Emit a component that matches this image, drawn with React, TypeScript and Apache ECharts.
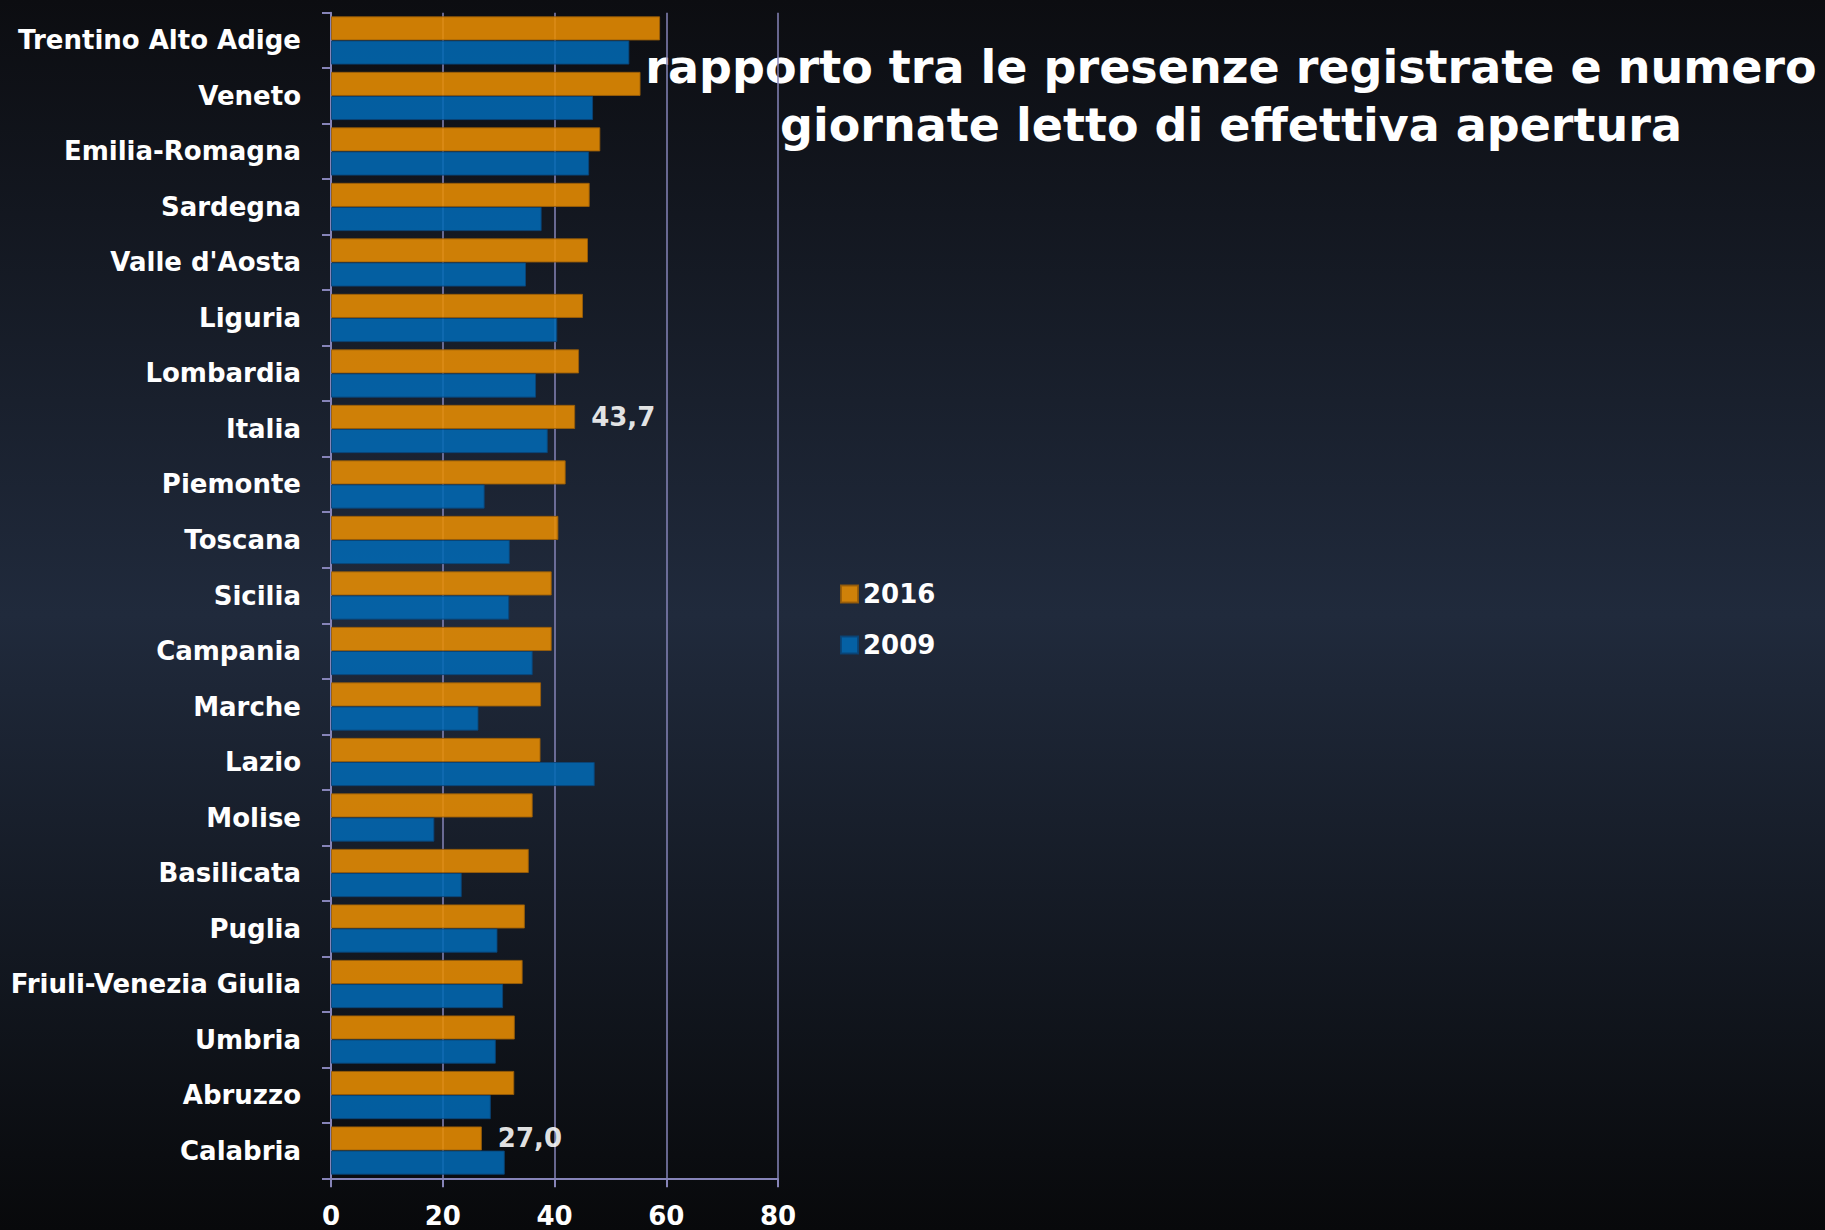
import React, { useEffect, useRef } from "react";
import * as echarts from "echarts";

const categories = [
  "Trentino Alto Adige",
  "Veneto",
  "Emilia-Romagna",
  "Sardegna",
  "Valle d'Aosta",
  "Liguria",
  "Lombardia",
  "Italia",
  "Piemonte",
  "Toscana",
  "Sicilia",
  "Campania",
  "Marche",
  "Lazio",
  "Molise",
  "Basilicata",
  "Puglia",
  "Friuli-Venezia Giulia",
  "Umbria",
  "Abruzzo",
  "Calabria",
];

const values2016 = [58.9, 55.4, 48.2, 46.3, 46.0, 45.1, 44.4, 43.7, 42.0, 40.7, 39.5, 39.5, 37.6, 37.5, 36.1, 35.4, 34.7, 34.3, 32.9, 32.8, 27.0];
const values2009 = [53.4, 46.9, 46.2, 37.7, 34.9, 40.5, 36.7, 38.8, 27.5, 32.0, 31.9, 36.1, 26.4, 47.2, 18.5, 23.4, 29.8, 30.8, 29.5, 28.6, 31.1];

const labelledCategories = ["Italia", "Calabria"];

const xTicks = { min: 0, max: 80, interval: 20 };

const titleLines = [
  "rapporto tra le presenze registrate e numero",
  "giornate letto di effettiva apertura",
];

const FONT = "'DejaVu Sans', 'Liberation Sans', sans-serif";
const LINE = "#8684b8";

export default function App() {
  const ref = useRef<HTMLDivElement>(null);

  useEffect(() => {
    if (!ref.current) return;
    const chart = echarts.init(ref.current, undefined, { renderer: "svg" });

    const data2016 = values2016.map((v, i) =>
      labelledCategories.includes(categories[i])
        ? {
            value: v,
            label: {
              show: true,
              position: "right",
              distance: 16,
              color: "#ffffff",
              fontFamily: FONT,
              fontWeight: "bold",
              fontSize: 26,
              formatter: (p: any) => Number(p.value).toFixed(1).replace(".", ","),
            },
          }
        : v
    );

    chart.setOption({
      animation: false,
      backgroundColor: {
        type: "linear",
        x: 0,
        y: 0,
        x2: 0,
        y2: 1,
        colorStops: [
          { offset: 0, color: "#0c0d11" },
          { offset: 0.5, color: "#202a3c" },
          { offset: 1, color: "#08090b" },
        ],
      },
      graphic: [
        {
          type: "text",
          x: 1231,
          y: 38,
          style: {
            text: titleLines.join("\n"),
            fill: "#ffffff",
            font: `bold 46px ${FONT}`,
            textAlign: "center",
            lineHeight: 58,
          },
        },
      ],
      legend: {
        orient: "vertical",
        left: 835,
        top: 576,
        itemWidth: 17,
        itemHeight: 17,
        itemGap: 25,
        icon: "rect",
        data: ["2016", "2009"],
        textStyle: {
          color: "#ffffff",
          fontFamily: FONT,
          fontWeight: "bold",
          fontSize: 26,
        },
      },
      grid: {
        left: 331,
        top: 12.7,
        width: 447,
        height: 1165.6,
        containLabel: false,
      },
      xAxis: {
        type: "value",
        min: xTicks.min,
        max: xTicks.max,
        interval: xTicks.interval,
        axisLine: { show: true, lineStyle: { color: LINE, width: 2 } },
        axisTick: { show: true, length: 9, lineStyle: { color: LINE, width: 2 } },
        splitLine: { show: true, lineStyle: { color: LINE, width: 1.5 } },
        axisLabel: {
          color: "#ffffff",
          fontFamily: FONT,
          fontWeight: "bold",
          fontSize: 26,
          margin: 25,
        },
      },
      yAxis: {
        type: "category",
        inverse: true,
        data: categories,
        axisLine: { show: true, lineStyle: { color: LINE, width: 2 } },
        axisTick: { show: true, length: 9, lineStyle: { color: LINE, width: 2 } },
        axisLabel: {
          color: "#ffffff",
          fontFamily: FONT,
          fontWeight: "bold",
          fontSize: 26,
          margin: 30,
        },
      },
      series: [
        {
          name: "2016",
          type: "bar",
          data: data2016,
          barGap: "0%",
          barCategoryGap: "13%",
          itemStyle: {
            color: "#e88d02",
            opacity: 0.88,
            borderColor: "#9a5d08",
            borderWidth: 1,
          },
        },
        {
          name: "2009",
          type: "bar",
          data: values2009,
          barGap: "0%",
          barCategoryGap: "13%",
          itemStyle: {
            color: "#0269b3",
            opacity: 0.88,
            borderColor: "#0a4478",
            borderWidth: 1,
          },
        },
      ],
    });

    return () => chart.dispose();
  }, []);

  return (
    <div
      ref={ref}
      style={{ position: "fixed", left: 0, top: 0, width: 1825, height: 1230 }}
    />
  );
}
